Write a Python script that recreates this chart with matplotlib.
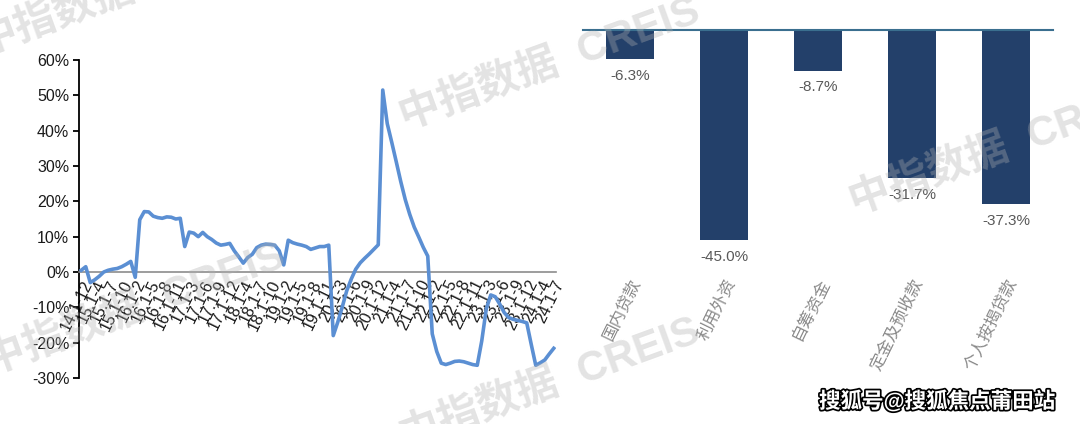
import matplotlib.pyplot as plt
import matplotlib.patheffects as pe

plt.rcParams['font.family'] = ['Liberation Sans', 'Noto Sans CJK SC', 'DejaVu Sans']

# cumulative yoy (%), 14.1-12 ... 24.1-7 (no single-January points)
yoy = [0.5,
       1.5, -3.0, -2.2, -1.2, 0.0, 0.5, 0.8, 1.0, 1.5, 2.2, 3.0,
       -1.5, 14.8, 17.1, 17.0, 15.8, 15.4, 15.2, 15.6, 15.5, 15.0, 15.2,
       7.2, 11.3, 11.0, 10.0, 11.2, 10.0, 9.2, 8.2, 7.6, 7.8, 8.1,
       6.0, 4.3, 2.5, 4.1, 5.0, 6.9, 7.6, 7.9, 7.8, 7.6, 6.0,
       2.0, 9.0, 8.3, 7.9, 7.6, 7.2, 6.4, 6.8, 7.2, 7.2, 7.6,
       -18.0, -14.2, -9.9, -5.3, -2.0, 0.8, 2.6, 3.9, 5.1, 6.4, 7.7,
       51.5, 42.0, 36.7, 31.2, 25.6, 20.5, 16.3, 12.7, 9.9, 7.0, 4.5,
       -17.5, -22.5, -25.8, -26.2, -25.8, -25.3, -25.2, -25.4, -25.8, -26.2, -26.4,
       -19.5, -10.5, -6.5, -7.0, -9.1, -11.5, -12.9, -13.4, -13.7, -14.0, -14.4,
       -20.5, -26.4, -25.7, -24.9, -23.2, -21.6]

tick_labels = ["14.1-12", "15.1-4", "15.1-7", "15.1-10", "16.1-2", "16.1-5",
               "16.1-8", "16.1-11", "17.1-3", "17.1-6", "17.1-9", "17.1-12",
               "18.1-4", "18.1-7", "18.1-10", "19.1-2", "19.1-5", "19.1-8",
               "19.1-11", "20.1-3", "20.1-6", "20.1-9", "20.1-12", "21.1-4",
               "21.1-7", "21.1-10", "22.1-2", "22.1-5", "22.1-8", "22.1-11",
               "23.1-3", "23.1-6", "23.1-9", "23.1-12", "24.1-4", "24.1-7"]

yticks = [-30, -20, -10, 0, 10, 20, 30, 40, 50, 60]

categories = ["国内贷款", "利用外资", "自筹资金", "定金及预收款", "个人按揭贷款"]
growth = [-6.3, -45.0, -8.7, -31.7, -37.3]

fig = plt.figure(figsize=(10.8, 4.24), dpi=100)

# left: line chart
ax = fig.add_axes([79 / 1080, 46 / 424, 477 / 1080, 318 / 424])
# spine position first: it resets tick label styling
ax.spines['top'].set_visible(False)
ax.spines['right'].set_visible(False)
ax.spines['bottom'].set_position(('data', 0))
ax.spines['bottom'].set_color('#8c8c8c')
ax.spines['bottom'].set_linewidth(1.2)
ax.spines['left'].set_linewidth(1.3)

x = list(range(len(yoy)))
ax.plot(x, yoy, color='#5b8fd3', lw=2.6, zorder=3)
ax.set_xlim(-0.5, len(yoy) - 0.5)
ax.set_ylim(-30, 60)
ax.set_yticks(yticks)
ax.set_yticklabels([f"{v}%" for v in yticks], fontsize=11.5, color='#1a1a1a')
ax.set_xticks(x[::3])
ax.set_xticklabels(tick_labels, rotation=64, ha='right', va='top',
                   rotation_mode='anchor', fontsize=11.5, color='#1a1a1a')
ax.tick_params(axis='x', length=0, pad=4)
ax.tick_params(axis='y', length=4, width=1.3, pad=3)

# right: bar chart
ax2 = fig.add_axes([583 / 1080, 170 / 424, 470 / 1080, 224 / 424])
bx = list(range(len(categories)))
ax2.bar(bx, growth, width=0.51, color='#23406a', zorder=2)
ax2.axhline(0, color='#3a6f8f', lw=1.5, clip_on=False, zorder=3)
for i, v in zip(bx, growth):
    ax2.annotate(f"{v:.1f}%", (i, v), xytext=(0, -7), textcoords='offset points',
                 ha='center', va='top', fontsize=11, color='#595959')
ax2.set_xlim(-0.5, len(categories) - 0.5)
ax2.set_ylim(-48, 0)
ax2.set_yticks([])
ax2.set_xticks(bx)
ax2.set_xticklabels(categories, rotation=64, ha='right', va='top',
                    rotation_mode='anchor', fontsize=12, color='#8a8a8a')
ax2.tick_params(axis='x', length=0, pad=16)
for s in ax2.spines.values():
    s.set_visible(False)

# watermarks
marks = [("中指数据", 55, 15), ("中指数据  CREIS", 550, 65),
         ("中指数据  CREIS", 1000, 150), ("中指数据  CREIS", 135, 310),
         ("中指数据  CREIS", 550, 385)]
for txt, px, py in marks:
    fig.text(px / 1080, 1 - py / 424, txt, fontsize=30, fontweight='bold',
             color='#b0b0b0', alpha=0.35, rotation=20, ha='center', va='center',
             rotation_mode='anchor', zorder=10)

fig.text(937 / 1080, 1 - 402 / 424, "搜狐号@搜狐焦点莆田站", fontsize=15.5,
         fontweight='bold', color='white', ha='center', va='center', zorder=11,
         path_effects=[pe.withStroke(linewidth=2.5, foreground='black')])

fig.savefig('out.png', dpi=100)
